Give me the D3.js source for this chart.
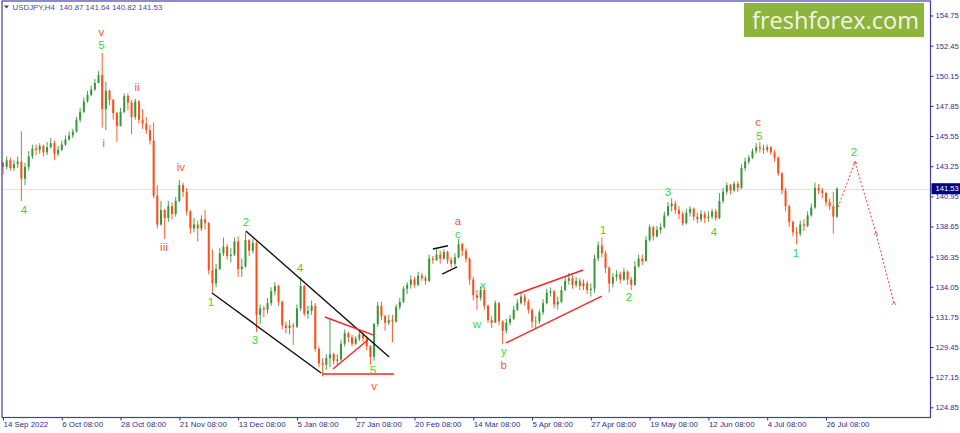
<!DOCTYPE html>
<html><head><meta charset="utf-8">
<script src="https://cdn.jsdelivr.net/npm/d3@7"></script>
<style>
html,body{margin:0;padding:0;background:#fff;}
svg{display:block;}
</style></head><body>
<svg id="c" width="960" height="433"></svg>
<script>
// ---------- DATA ----------
const symbolTitle = "USDJPY,H4";
const lastOHLC = ["140.87", "141.64", "140.82", "141.53"];
const brandText = "freshforex.com";

const xTickIdx = [0, 16, 32, 48, 64, 80, 96, 112, 128, 144, 160, 176, 192, 208, 224];
const xTickLabels = ["14 Sep 2022", "6 Oct 08:00", "28 Oct 08:00", "21 Nov 08:00", "13 Dec 08:00",
  "5 Jan 08:00", "27 Jan 08:00", "20 Feb 08:00", "14 Mar 08:00", "5 Apr 08:00", "27 Apr 08:00",
  "19 May 08:00", "12 Jun 08:00", "4 Jul 08:00", "26 Jul 08:00"];
const yTicks = [124.85, 127.15, 129.45, 131.75, 134.05, 136.35, 138.65, 140.95, 143.25, 145.55, 147.85, 150.15, 152.45, 154.75];
const lastPrice = 141.53;

const firstOpen = 143.5;
const closes = [
143.2,143.7,143.1,143.4,143.6,142.3,143.2,144.0,144.6,144.5,
144.8,144.3,144.7,145.0,144.2,144.5,144.9,145.3,145.6,145.9,
146.8,147.4,148.2,148.7,149.1,149.6,150.2,147.6,149.0,148.3,
147.3,146.3,147.4,148.6,148.1,147.0,148.2,146.8,146.5,146.0,
145.2,141.0,138.8,139.9,139.3,140.2,139.6,140.6,141.8,141.3,
139.8,138.5,138.8,138.5,139.2,138.9,135.3,134.3,135.4,136.6,
137.1,136.4,136.5,137.5,135.4,135.6,137.6,136.8,137.4,131.9,
132.4,132.3,132.8,133.7,134.1,132.9,131.1,130.9,131.1,131.0,
132.4,134.1,132.0,132.2,132.6,129.3,128.2,128.1,128.6,128.9,
128.4,128.5,129.7,130.5,130.2,129.7,130.1,130.4,130.1,129.5,
128.7,131.2,132.6,131.8,131.3,131.5,131.4,132.5,132.9,133.9,
134.2,134.6,134.2,134.9,134.7,134.5,136.2,136.1,136.5,136.2,
136.7,136.1,135.8,136.3,137.3,136.8,136.2,134.6,133.4,133.2,
133.8,132.6,131.5,131.3,132.8,131.4,130.7,131.3,131.6,132.3,
132.8,133.3,132.9,132.3,131.4,131.4,132.1,132.8,133.6,133.7,
132.7,132.9,133.8,134.5,134.7,134.2,134.5,134.1,134.3,133.8,
133.9,136.2,137.2,136.6,135.5,134.3,134.8,135.0,134.6,135.2,
134.6,134.2,135.6,136.2,136.0,137.6,138.6,137.9,138.4,138.6,
139.5,140.2,140.4,139.9,139.6,138.9,139.7,140.0,139.4,139.2,
139.6,139.3,139.4,139.8,139.3,140.6,141.3,141.8,141.4,141.9,
141.6,143.1,143.6,143.9,144.4,144.7,144.6,144.5,144.7,144.3,
143.9,142.7,141.4,140.2,139.0,138.2,138.1,138.8,138.7,139.5,
140.1,141.6,141.4,141.2,140.5,140.2,139.4,141.53];
const highs = [
143.6,144.0,143.9,143.7,144.0,145.9,143.5,144.4,144.9,144.9,
145.0,144.9,145.1,145.4,145.2,144.8,145.2,145.6,145.9,146.1,
147.0,147.7,148.5,149.0,149.4,149.9,150.5,151.9,149.7,149.1,
148.4,147.4,147.7,148.8,148.8,148.3,148.4,148.3,147.6,147.0,
146.4,146.6,141.8,140.6,140.0,140.6,140.5,140.9,142.2,142.0,
141.6,139.9,139.3,139.1,139.5,139.9,139.0,136.9,135.8,137.0,
137.8,137.3,137.0,137.8,137.9,136.2,138.2,137.7,137.7,137.5,
132.7,132.6,133.2,134.0,134.4,134.2,133.0,131.4,131.5,131.3,
132.7,134.8,134.2,132.6,133.0,132.8,129.5,128.6,128.9,131.6,
129.0,128.9,130.0,130.8,130.6,130.4,130.3,130.6,130.6,130.3,
129.6,131.3,132.9,132.9,131.9,131.9,131.9,132.7,133.2,134.1,
134.4,134.9,134.8,135.2,135.1,134.9,136.5,136.4,136.9,136.8,
136.9,136.8,136.3,136.6,137.7,137.4,137.0,136.3,134.8,133.8,
134.1,134.0,132.7,131.8,133.0,132.9,131.5,131.6,131.9,132.6,
133.1,133.6,133.5,133.1,132.4,131.8,132.3,133.1,133.9,134.0,
133.8,133.3,134.1,134.8,135.1,134.9,134.8,134.7,134.6,134.5,
134.3,136.5,137.5,137.8,136.8,135.6,135.1,135.3,135.2,135.5,
135.3,134.8,136.0,136.5,136.5,137.9,138.8,138.7,138.7,138.9,
139.8,140.5,140.8,140.6,140.2,139.8,140.0,140.2,140.1,139.7,
139.9,139.8,139.8,140.0,140.0,141.2,141.6,142.0,141.9,142.1,
142.1,143.4,143.9,144.1,144.6,145.0,145.1,144.9,144.9,144.8,
144.5,144.0,142.8,141.6,140.3,139.1,138.6,139.1,139.2,139.8,
140.4,142.0,141.9,141.6,141.3,140.8,141.3,141.64];
const lows = [
142.6,143.0,142.9,142.9,143.1,140.6,141.8,142.9,143.8,144.1,
144.2,144.0,144.1,144.6,143.7,144.0,144.4,144.8,145.2,145.4,
145.8,146.6,147.3,148.1,148.6,149.0,149.6,146.2,146.0,147.9,
146.8,145.1,146.3,147.3,147.5,145.7,146.8,146.5,146.1,145.7,
144.9,140.8,138.5,138.7,137.7,139.0,139.2,139.4,140.5,140.9,
139.5,138.1,138.2,137.5,138.3,138.4,135.0,133.6,134.0,135.3,
136.4,136.1,135.9,136.4,134.8,134.8,135.5,136.4,136.6,130.6,
131.2,131.7,132.0,132.6,133.4,132.6,130.8,130.5,130.4,129.6,
130.9,132.2,131.8,131.6,131.9,129.1,127.9,127.2,127.7,127.9,
128.1,128.0,128.4,129.5,129.8,129.5,129.6,129.9,129.8,129.2,
128.1,128.4,131.0,131.5,130.7,131.1,129.8,131.3,132.3,132.8,
133.5,133.9,134.0,134.1,134.5,134.2,134.4,135.8,136.0,135.8,
136.1,135.8,135.5,135.6,136.2,136.4,135.9,134.2,133.0,132.3,
133.0,132.3,131.3,130.9,131.3,131.1,129.7,130.5,131.1,131.5,
132.2,132.7,132.6,132.0,130.9,130.8,131.2,131.9,132.7,133.3,
132.4,132.3,132.8,133.7,134.2,133.9,134.0,133.8,133.8,133.5,
133.3,133.6,136.0,136.3,135.1,133.6,134.0,134.5,134.3,134.5,
134.2,133.8,134.1,135.5,135.7,136.0,137.5,137.6,137.8,138.1,
138.5,139.4,139.8,139.6,139.2,138.7,138.8,139.4,139.1,138.9,
139.0,138.9,139.0,139.2,139.1,139.2,140.4,141.1,141.1,141.3,
141.3,141.5,142.9,143.4,143.8,144.2,144.3,144.2,144.3,144.1,
143.6,142.5,141.1,139.8,138.6,137.9,137.3,137.9,138.3,138.6,
139.4,140.0,141.1,140.8,140.2,139.9,138.1,139.3];

// Elliott wave labels: text, bar index, price, degree (major = orange, minor = green)
const waveText  = ["v","5","i","ii","iii","iv","4","1","2","3","4","5","v","a","c","x","w","y","b","1","2","3","4","c","5","1","2"];
const waveIdx   = [26.8,26.8,27.4,36.5,43.8,48.4,5.7,56.6,66.1,68.6,80.8,100.7,101.0,123.8,123.8,130.6,129.0,136.3,136.3,163.3,170.4,181.0,193.5,205.5,205.8,215.8,231.6];
const wavePrice = [153.52,152.54,145.02,149.29,137.08,143.19,139.91,132.89,138.99,129.99,135.48,127.72,126.52,139.07,138.07,134.18,131.21,129.14,128.07,138.38,133.27,141.28,138.23,146.62,145.60,136.62,144.33];
const waveDegree= ["major","minor","major","major","major","major","minor","minor","minor","minor","minor","minor","major","major","minor","minor","minor","minor","major","minor","minor","minor","minor","major","minor","minor","minor"];

// Trend lines: [[idx, price],[idx, price]], kind
const trendLines = [
  {kind:"black", pts:[[66.1,138.31],[105.1,128.69]]},
  {kind:"black", pts:[[56.9,133.57],[86.6,127.47]]},
  {kind:"black", pts:[[117.0,136.93],[121.1,137.18]]},
  {kind:"black", pts:[[119.5,135.02],[123.6,135.56]]},
  {kind:"red",   pts:[[87.6,131.74],[100.7,130.37]]},
  {kind:"red",   pts:[[89.8,127.77],[99.3,129.99]]},
  {kind:"red",   pts:[[86.8,127.39],[106.4,127.39]]},
  {kind:"red",   pts:[[139.1,133.42],[157.9,135.33]]},
  {kind:"red",   pts:[[136.9,129.76],[163.0,133.34]]}
];
// Projected path (dotted)
const projIdx   = [227.3, 231.9, 237.6, 242.5];
const projPrice = [140.14, 143.57, 138.15, 132.81];

// ---------- DRAW ----------
const svg = d3.select("#c");
const plot = {left: 2, top: 1, right: 930.5, bottom: 417.5};
const navy = "#2e2e8c";
const upCol = "#3a963a", downCol = "#ff4d14";
const majorCol = "#ff5a1e", minorCol = "#2fe02f";

const x = d3.scaleLinear().domain([0, 227]).range([3, 837]);
const y = d3.scaleLinear().domain([124.85, 154.75]).range([407.3, 15.5]);

svg.append("defs").append("clipPath").attr("id", "clip")
  .append("rect").attr("x", plot.left).attr("y", plot.top)
  .attr("width", plot.right - plot.left).attr("height", plot.bottom - plot.top);

const g = svg.append("g").attr("clip-path", "url(#clip)");

// bid line
g.append("line").attr("x1", plot.left).attr("x2", plot.right)
  .attr("y1", Math.round(y(lastPrice)) + 0.5).attr("y2", Math.round(y(lastPrice)) + 0.5)
  .attr("stroke", "#e2e2e2").attr("stroke-width", 1);

// candles
const candles = closes.map((c, i) => ({
  i, o: i === 0 ? firstOpen : closes[i - 1], h: highs[i], l: lows[i], c
}));
const cg = g.append("g");
cg.selectAll("line.w").data(candles).join("line").attr("class", "w")
  .attr("x1", d => x(d.i)).attr("x2", d => x(d.i))
  .attr("y1", d => y(d.h)).attr("y2", d => y(d.l))
  .attr("stroke", d => d.c >= d.o ? upCol : downCol).attr("stroke-width", 0.9);
cg.selectAll("rect.b").data(candles).join("rect").attr("class", "b")
  .attr("x", d => x(d.i) - 1.0).attr("width", 2.0)
  .attr("y", d => y(Math.max(d.o, d.c)))
  .attr("height", d => Math.max(0.8, Math.abs(y(d.o) - y(d.c))))
  .attr("fill", d => d.c >= d.o ? upCol : downCol);

// trend lines
g.selectAll("line.t").data(trendLines).join("line").attr("class", "t")
  .attr("x1", d => x(d.pts[0][0])).attr("y1", d => y(d.pts[0][1]))
  .attr("x2", d => x(d.pts[1][0])).attr("y2", d => y(d.pts[1][1]))
  .attr("stroke", d => d.kind === "red" ? "#ff2222" : "#111")
  .attr("stroke-width", 1.4);

// projection
const projPts = projIdx.map((v, i) => [x(v), y(projPrice[i])]);
g.append("path").attr("d", d3.line()(projPts)).attr("fill", "none")
  .attr("stroke", "#ff3a3a").attr("stroke-width", 1).attr("stroke-dasharray", "2,2");
g.selectAll("path.m").data(projPts.slice(1)).join("path").attr("class", "m")
  .attr("d", d => `M${d[0]-2},${d[1]+2}L${d[0]},${d[1]-1}L${d[0]+2},${d[1]+2}`)
  .attr("fill", "none").attr("stroke", "#ff5050").attr("stroke-width", 0.9);

// wave labels
g.selectAll("text.wv").data(waveText).join("text").attr("class", "wv")
  .attr("x", (d, i) => x(waveIdx[i])).attr("y", (d, i) => y(wavePrice[i]))
  .attr("dy", "0.36em").attr("text-anchor", "middle")
  .attr("font-family", "Liberation Sans, Arial, sans-serif").attr("font-size", 11.5)
  .attr("fill", (d, i) => waveDegree[i] === "major" ? majorCol : minorCol)
  .text(d => d);

// logo
svg.append("rect").attr("x", 744).attr("y", 3).attr("width", 180).attr("height", 34)
  .attr("fill", "#8db43c");
svg.append("text").attr("x", 752).attr("y", 28.5)
  .attr("font-family", "Open Sans, Noto Sans, sans-serif").attr("font-size", 24)
  .attr("fill", "#f2f6e6").attr("textLength", 167).attr("lengthAdjust", "spacingAndGlyphs")
  .text(brandText);

// frame
svg.append("rect").attr("x", plot.left).attr("y", plot.top)
  .attr("width", plot.right - plot.left).attr("height", plot.bottom - plot.top)
  .attr("fill", "none").attr("stroke", "#4040a8").attr("stroke-width", 1.2);

// y axis
const yAxis = d3.axisRight(y).tickValues(yTicks).tickSize(3).tickPadding(2)
  .tickFormat(d => d.toFixed(2));
const ya = svg.append("g").attr("transform", `translate(${plot.right},0)`).call(yAxis);
ya.select(".domain").remove();
ya.selectAll("line").attr("stroke", navy);
ya.selectAll("text").attr("font-family", "Liberation Sans, Arial, sans-serif")
  .attr("font-size", 7.6).attr("fill", navy);

// x axis
const xAxis = d3.axisBottom(x).tickValues(xTickIdx).tickSize(3).tickPadding(1)
  .tickFormat((d, i) => xTickLabels[i]);
const xa = svg.append("g").attr("transform", `translate(0,${plot.bottom})`).call(xAxis);
xa.select(".domain").remove();
xa.selectAll("line").attr("stroke", navy);
xa.selectAll("text").attr("text-anchor", "start")
  .attr("font-family", "Liberation Sans, Arial, sans-serif")
  .attr("font-size", 7.9).attr("fill", navy);

// current price box
const py = y(lastPrice);
svg.append("rect").attr("x", plot.right + 1).attr("y", py - 5.5).attr("width", 29).attr("height", 11)
  .attr("fill", "#000080");
svg.append("text").attr("x", plot.right + 5).attr("y", py).attr("dy", "0.34em")
  .attr("font-family", "Liberation Sans, Arial, sans-serif").attr("font-size", 7.6)
  .attr("fill", "#fff").text(lastPrice.toFixed(2));

// header
svg.append("path").attr("d", "M4,5.5L9,5.5L6.5,8.5Z").attr("fill", "#3a3a90");
svg.append("text").attr("x", 12.5).attr("y", 10)
  .attr("font-family", "Liberation Sans, Arial, sans-serif").attr("font-size", 7.9)
  .attr("fill", "#4a4a9e").attr("xml:space", "preserve")
  .text(symbolTitle + "  " + lastOHLC.join(" "));
</script>
</body></html>
